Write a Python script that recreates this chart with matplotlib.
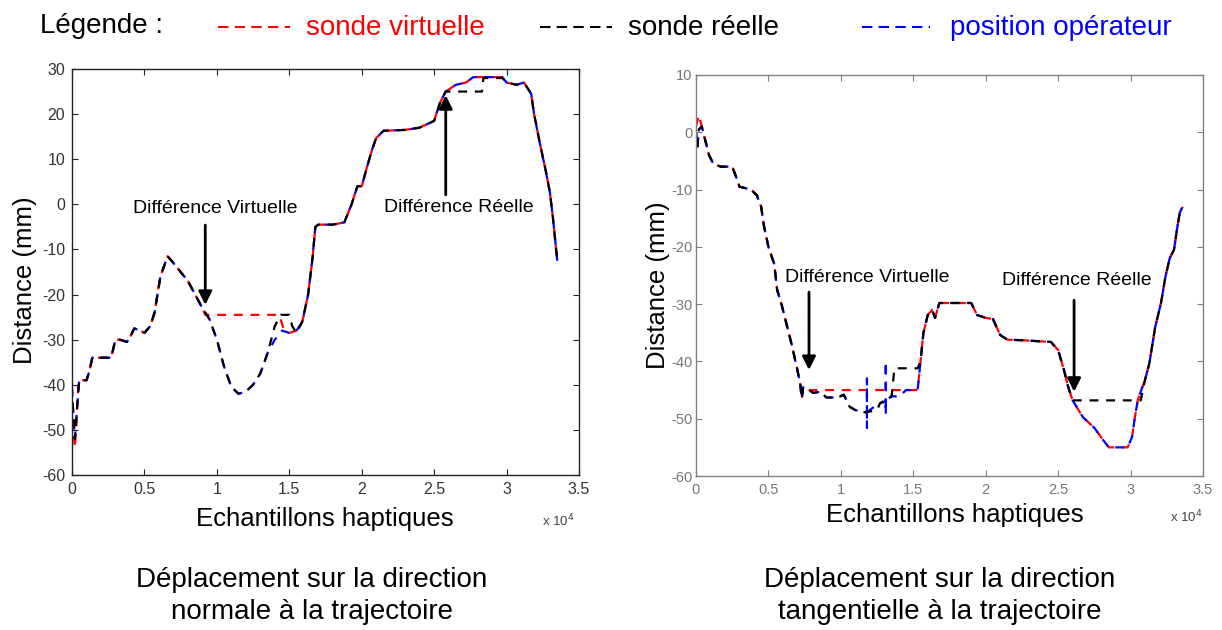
import matplotlib
matplotlib.use("Agg")
import matplotlib.pyplot as plt
from matplotlib.lines import Line2D
from matplotlib.ticker import FuncFormatter, MultipleLocator

plt.rcParams['font.family'] = ['Liberation Sans', 'DejaVu Sans']
plt.rcParams['axes.unicode_minus'] = False

# abscissa in units of 10^4 haptic samples, ordinate in mm

# normal direction
norm_real_x = [0.00, 0.01, 0.02, 0.035, 0.05, 0.10, 0.12, 0.14, 0.27, 0.30, 0.33, 0.38, 0.40, 0.43, 0.47,
               0.50, 0.54, 0.57, 0.61, 0.66, 0.70, 0.75, 0.80, 0.85, 0.90, 0.95, 1.00, 1.05, 1.10, 1.15,
               1.20, 1.25, 1.30, 1.35, 1.40, 1.44, 1.50, 1.52, 1.55, 1.59, 1.63, 1.66, 1.68, 1.70, 1.80,
               1.88, 1.93, 1.97, 2.00, 2.03, 2.07, 2.10, 2.15, 2.30, 2.40, 2.50, 2.54, 2.58, 2.83, 2.84,
               2.97, 3.00, 3.07, 3.12, 3.17, 3.19, 3.23, 3.27, 3.30, 3.32, 3.35]
norm_real_y = [-41, -47, -52, -45, -39, -39, -37, -34, -34, -30, -30, -30.5, -29.5, -27.5, -28,
               -28.5, -27, -24, -16, -11.5, -13, -15, -17, -20, -23, -25.5, -30, -36, -40.5, -42,
               -41.5, -40, -37.5, -33, -27, -24.5, -24.5, -27, -28.5, -26, -20, -12, -5, -4.5, -4.5,
               -4, 0, 4, 4, 7.5, 12, 14.7, 16.3, 16.5, 17, 18.5, 22.5, 25, 25, 28,
               28, 27, 26.5, 27, 24.5, 20, 13.5, 7.5, 2.5, -3, -12.5]

norm_virt_x = [0.00, 0.01, 0.02, 0.03, 0.045, 0.10, 0.12, 0.14, 0.27, 0.30, 0.33, 0.38, 0.40, 0.43, 0.47,
               0.50, 0.54, 0.57, 0.61, 0.66, 0.70, 0.75, 0.80, 0.85, 0.90, 0.92, 1.43, 1.46, 1.50, 1.55,
               1.59, 1.63, 1.66, 1.68, 1.70, 1.80, 1.88, 1.93, 1.97, 2.00, 2.03, 2.07, 2.10, 2.15, 2.30,
               2.40, 2.50, 2.54, 2.58, 2.65, 2.72, 2.77, 2.97, 3.00, 3.07, 3.12, 3.17, 3.19, 3.23, 3.27,
               3.30, 3.32, 3.35]
norm_virt_y = [-44, -50, -54, -49, -39, -39, -37, -34, -34, -30, -30, -30.5, -29.5, -27.5, -28,
               -28.5, -27, -24, -16, -11.5, -13, -15, -17, -20, -23, -24.5, -24.5, -27.5, -28.5, -28,
               -26, -20, -12, -5, -4.5, -4.5, -4, 0, 4, 4, 7.5, 12, 14.7, 16.3, 16.5,
               17, 18.5, 22.5, 25, 26.5, 27, 28.2, 28.2, 27, 26.5, 27, 24.5, 20, 13.5, 7.5,
               2.5, -3, -12.5]

norm_oper_x = [0.00, 0.01, 0.02, 0.035, 0.05, 0.10, 0.12, 0.14, 0.27, 0.30, 0.33, 0.38, 0.40, 0.43, 0.47,
               0.50, 0.54, 0.57, 0.61, 0.66, 0.70, 0.75, 0.80, 0.85, 0.90, 0.95, 1.00, 1.05, 1.10, 1.15,
               1.20, 1.25, 1.30, 1.35, 1.40, 1.45, 1.50, 1.55, 1.59, 1.63, 1.66, 1.68, 1.70, 1.80, 1.88,
               1.93, 1.97, 2.00, 2.03, 2.07, 2.10, 2.15, 2.30, 2.40, 2.50, 2.54, 2.58, 2.65, 2.72, 2.77,
               2.97, 3.00, 3.07, 3.12, 3.17, 3.19, 3.23, 3.27, 3.30, 3.32, 3.35]
norm_oper_y = [-41, -47, -52, -45, -39, -39, -37, -34, -34, -30, -30, -30.5, -29.5, -27.5, -28,
               -28.5, -27, -24, -16, -11.5, -13, -15, -17, -20, -23, -25.5, -30, -36, -40.5, -42,
               -41.5, -40, -37.5, -33, -30, -28, -28.5, -28, -26, -20, -12, -5, -4.5, -4.5, -4,
               0, 4, 4, 7.5, 12, 14.7, 16.3, 16.5, 17, 18.5, 22.5, 25, 26.5, 27, 28.2,
               28.2, 27, 26.5, 27, 24.5, 20, 13.5, 7.5, 2.5, -3, -12.5]

# tangential direction
tang_real_x = [0.00, 0.01, 0.02, 0.04, 0.06, 0.09, 0.12, 0.17, 0.25, 0.28, 0.30, 0.38, 0.42, 0.45, 0.47,
               0.50, 0.54, 0.56, 0.59, 0.62, 0.66, 0.70, 0.72, 0.73, 0.74, 0.77, 0.81, 0.86, 0.90, 0.98,
               1.02, 1.06, 1.10, 1.17, 1.25, 1.27, 1.31, 1.35, 1.37, 1.53, 1.55, 1.57, 1.60, 1.63, 1.65,
               1.68, 1.90, 1.94, 2.00, 2.05, 2.10, 2.15, 2.25, 2.45, 2.50, 2.54, 2.57, 2.60, 3.07, 3.10,
               3.13, 3.17, 3.21, 3.24, 3.27, 3.30, 3.32, 3.34, 3.36]
tang_real_y = [0, -2.5, 0.5, 1, -1, -4, -5.5, -6, -6, -8, -9.5, -10, -11, -13, -16.5,
               -20, -23, -27.5, -30, -33, -37, -41.5, -44, -46.5, -44.5, -44.8, -45.5, -45.3, -46.3, -46.3,
               -45.8, -47.9, -48.5, -48.9, -48.5, -47.3, -46.7, -46.2, -41.2, -41.2, -40, -35, -31.9, -31, -32.4,
               -29.8, -29.8, -31.9, -32.4, -32.6, -35.4, -36.2, -36.3, -36.6, -38, -41.5, -44.5, -46.8, -46.8, -43.2,
               -40.3, -34, -29.8, -25.3, -22, -20.5, -17, -14, -13]

tang_virt_x = [0.00, 0.02, 0.04, 0.06, 0.09, 0.12, 0.17, 0.25, 0.28, 0.30, 0.38, 0.42, 0.45, 0.47, 0.50,
               0.54, 0.56, 0.59, 0.62, 0.66, 0.70, 0.72, 0.73, 0.74, 0.78, 1.53, 1.55, 1.57, 1.60, 1.63,
               1.65, 1.68, 1.90, 1.94, 2.00, 2.05, 2.10, 2.15, 2.25, 2.45, 2.50, 2.54, 2.57, 2.60, 2.67,
               2.75, 2.81, 2.85, 2.98, 3.01, 3.03, 3.05, 3.10, 3.13, 3.17, 3.21, 3.24, 3.27, 3.30, 3.32,
               3.34, 3.36]
tang_virt_y = [1, 3, 1, -1, -4, -5.5, -6, -6, -8, -9.5, -10, -11, -13, -16.5, -20,
               -23, -27.5, -30, -33, -37, -41.5, -44, -46.5, -44.5, -45, -45, -40, -35, -31.9, -31,
               -32.4, -29.8, -29.8, -31.9, -32.4, -32.6, -35.4, -36.2, -36.3, -36.6, -38, -41.5, -44.5, -46.8, -49.7,
               -51.6, -53.7, -55, -55, -53.2, -49.7, -46.7, -43.2, -40.3, -34, -29.8, -25.3, -22, -20.5, -17,
               -14, -13]

tang_oper_x = [0.00, 0.01, 0.02, 0.04, 0.06, 0.09, 0.12, 0.17, 0.25, 0.28, 0.30, 0.38, 0.42, 0.45, 0.47,
               0.50, 0.54, 0.56, 0.59, 0.62, 0.66, 0.70, 0.72, 0.73, 0.74, 0.77, 0.81, 0.86, 0.90, 0.98,
               1.02, 1.06, 1.10, 1.18, 1.18, 1.18, 1.18, 1.25, 1.27, 1.31, 1.31, 1.31, 1.31, 1.35, 1.40,
               1.45, 1.53, 1.55, 1.57, 1.60, 1.63, 1.65, 1.68, 1.90, 1.94, 2.00, 2.05, 2.10, 2.15, 2.25,
               2.45, 2.50, 2.54, 2.57, 2.60, 2.67, 2.75, 2.81, 2.85, 2.98, 3.01, 3.03, 3.05, 3.10, 3.13,
               3.17, 3.21, 3.24, 3.27, 3.30, 3.32, 3.34, 3.36]
tang_oper_y = [0, -2.5, 0.5, 1, -1, -4, -5.5, -6, -6, -8, -9.5, -10, -11, -13, -16.5,
               -20, -23, -27.5, -30, -33, -37, -41.5, -44, -46.5, -44.5, -44.8, -45.5, -45.3, -46.3, -46.3,
               -45.8, -47.9, -48.5, -48.9, -43.0, -51.6, -48.9, -47.5, -47.3, -47, -40, -49.3, -47, -46, -46.2,
               -45, -45, -40, -35, -31.9, -31, -32.4, -29.8, -29.8, -31.9, -32.4, -32.6, -35.4, -36.2, -36.3,
               -36.6, -38, -41.5, -44.5, -46.8, -49.7, -51.6, -53.7, -55, -55, -53.2, -49.7, -46.7, -43.2, -40.3,
               -34, -29.8, -25.3, -22, -20.5, -17, -14, -13]

W, H = 1222, 630


def fx(px):
    return px / W


def fy(py):
    return 1 - py / H


fig = plt.figure(figsize=(12.22, 6.30), dpi=100)

ax1 = fig.add_axes([fx(72), fy(475), (579 - 72) / W, (475 - 69) / H])
ax2 = fig.add_axes([fx(696), fy(476), (1203 - 696) / W, (476 - 75) / H])


def draw_curves(ax, vx, vy, ox, oy, rx, ry):
    # same dash period for the three traces, shifted a little so colours mix
    ax.plot(vx, vy, color='red', lw=1.6, linestyle=(0, (4, 3.5)))
    ax.plot(ox, oy, color='blue', lw=1.6, linestyle=(0.8, (4, 3.5)))
    ax.plot(rx, ry, color='black', lw=1.6, linestyle=(1.6, (4, 3.5)))


draw_curves(ax1, norm_virt_x, norm_virt_y, norm_oper_x, norm_oper_y, norm_real_x, norm_real_y)
draw_curves(ax2, tang_virt_x, tang_virt_y, tang_oper_x, tang_oper_y, tang_real_x, tang_real_y)

ax1.set_ylim(-60, 30)
ax2.set_ylim(-60, 10)

for ax, frame, lab, size, pad in [(ax1, '#222222', '#333333', 11.5, 5), (ax2, '#808080', '#777777', 10.5, 2.5)]:
    ax.set_xlim(0, 3.5)
    ax.xaxis.set_major_locator(MultipleLocator(0.5))
    ax.yaxis.set_major_locator(MultipleLocator(10))
    ax.xaxis.set_major_formatter(FuncFormatter(lambda v, p: '%g' % v))
    ax.tick_params(direction='in', top=True, right=True, length=4, width=0.8,
                   labelsize=size, labelcolor=lab, color=frame, pad=pad)
    ax.tick_params(axis='x', pad=5)
    for s in ax.spines.values():
        s.set_color(frame)
        s.set_linewidth(1.0)

arrow = dict(arrowstyle='-|>', lw=2, color='black', mutation_scale=20, shrinkA=0, shrinkB=0)

# normal direction annotations
ax1.text(0.99, -1.0, 'Différence Virtuelle', fontsize=14, ha='center', va='center')
ax1.annotate('', xy=(0.92, -22.3), xytext=(0.92, -4.6), arrowprops=arrow)
ax1.text(2.67, -0.6, 'Différence Réelle', fontsize=14, ha='center', va='center')
ax1.annotate('', xy=(2.58, 24.2), xytext=(2.58, 2.1), arrowprops=arrow)

# tangential direction annotations
ax2.text(1.18, -25.3, 'Différence Virtuelle', fontsize=14, ha='center', va='center')
ax2.annotate('', xy=(0.78, -41.5), xytext=(0.78, -27.9), arrowprops=arrow)
ax2.text(2.63, -25.8, 'Différence Réelle', fontsize=14, ha='center', va='center')
ax2.annotate('', xy=(2.61, -45.3), xytext=(2.61, -29.3), arrowprops=arrow)

# axis titles
for cx, cy in [(25, 280), (658, 285)]:
    fig.text(fx(cx), fy(cy), 'Distance (mm)', rotation=90, fontsize=18.5, ha='center', va='center')
for cx, cy in [(325, 519), (955, 515)]:
    fig.text(fx(cx), fy(cy), 'Echantillons haptiques', fontsize=18.5, ha='center', va='center')
for cx, cy in [(558, 521), (1186, 517)]:
    fig.text(fx(cx), fy(cy), r'x 10$^4$', fontsize=9.5, color='#444444', ha='center', va='center')

# captions
fig.text(fx(312), fy(596), 'Déplacement sur la direction\nnormale à la trajectoire',
         fontsize=20, ha='center', va='center', linespacing=1.3)
fig.text(fx(940), fy(596), 'Déplacement sur la direction\ntangentielle à la trajectoire',
         fontsize=20, ha='center', va='center', linespacing=1.3)

# legend row
fig.text(fx(40), fy(26), 'Légende :', fontsize=20, ha='left', va='center')
legend_items = [('red', 218, 290, 306, 'sonde virtuelle'),
                ('black', 540, 612, 628, 'sonde réelle'),
                ('blue', 862, 930, 950, 'position opérateur')]
for col, x0, x1, tx, label in legend_items:
    fig.add_artist(Line2D([fx(x0), fx(x1)], [fy(27), fy(27)], transform=fig.transFigure,
                          color=col, lw=1.5, linestyle=(0, (5, 3))))
    fig.text(fx(tx), fy(28), label, fontsize=20, color=col, ha='left', va='center')

fig.savefig('out.png', dpi=100)
